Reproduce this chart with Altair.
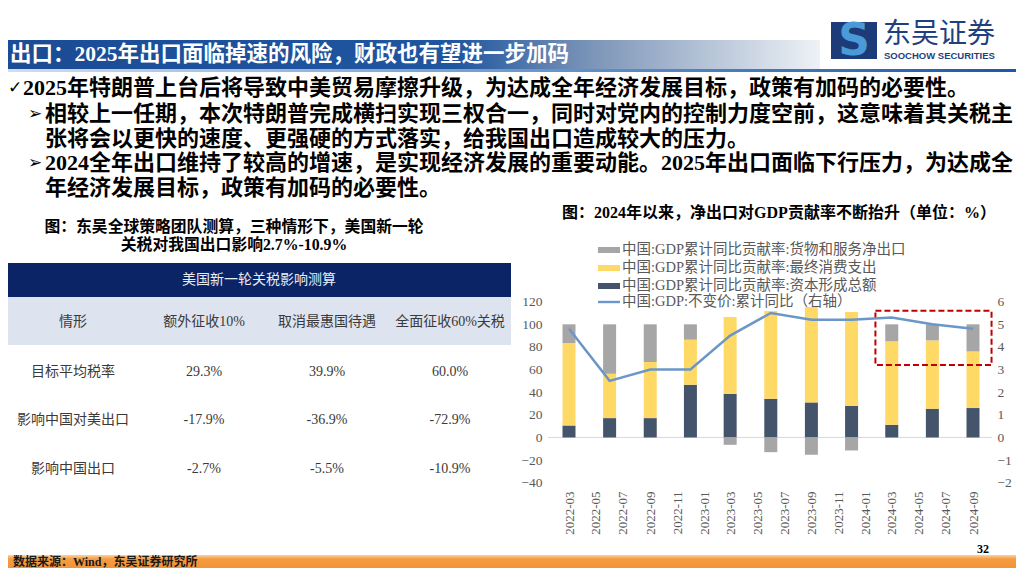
import altair as alt
import pandas as pd

# ---------------- data ----------------
quarter_dates = ["2022-03-01", "2022-06-01", "2022-09-01", "2022-12-01",
                 "2023-03-01", "2023-06-01", "2023-09-01", "2023-12-01",
                 "2024-03-01", "2024-06-01", "2024-09-01"]
capital_formation = [10.6, 17.1, 17.1, 46.6, 38.6, 34.2, 31.0, 28.0, 11.2, 25.4, 26.0]
final_consumption = [72.9, 39.2, 49.6, 39.8, 67.9, 77.6, 84.3, 83.0, 73.8, 60.4, 50.0]
net_exports = [16.5, 43.7, 33.3, 13.6, -6.5, -13.0, -15.3, -11.5, 15.0, 14.2, 24.0]
gdp_yoy = [4.8, 2.5, 3.0, 3.0, 4.5, 5.5, 5.2, 5.2, 5.3, 5.0, 4.8]

x_tick_labels = ["2022-03", "2022-05", "2022-07", "2022-09", "2022-11",
                 "2023-01", "2023-03", "2023-05", "2023-07", "2023-09", "2023-11",
                 "2024-01", "2024-03", "2024-05", "2024-07", "2024-09"]
left_ticks = [-40, -20, 0, 20, 40, 60, 80, 100, 120]
right_ticks = [-2, -1, 0, 1, 2, 3, 4, 5, 6]

series_names = ["中国:GDP累计同比贡献率:货物和服务净出口",
                "中国:GDP累计同比贡献率:最终消费支出",
                "中国:GDP累计同比贡献率:资本形成总额"]
line_name = "中国:GDP:不变价:累计同比（右轴）"
series_colors = ["#a6a6a6", "#ffd966", "#44546a"]
line_color = "#6a97c8"

highlight_dates = ["2024-01-24", "2024-10-13"]
highlight_values = [64, 112]

table_title = "美国新一轮关税影响测算"
table_header = ["情形", "额外征收10%", "取消最惠国待遇", "全面征收60%关税"]
table_row_names = ["目标平均税率", "影响中国对美出口", "影响中国出口"]
table_col_10pct = ["29.3%", "-17.9%", "-2.7%"]
table_col_mfn = ["39.9%", "-36.9%", "-5.5%"]
table_col_60pct = ["60.0%", "-72.9%", "-10.9%"]

slide_title = "出口：2025年出口面临掉速的风险，财政也有望进一步加码"
bullet_lines = [
    "2025年特朗普上台后将导致中美贸易摩擦升级，为达成全年经济发展目标，政策有加码的必要性。",
    "相较上一任期，本次特朗普完成横扫实现三权合一，同时对党内的控制力度空前，这意味着其关税主",
    "张将会以更快的速度、更强硬的方式落实，给我国出口造成较大的压力。",
    "2024全年出口维持了较高的增速，是实现经济发展的重要动能。2025年出口面临下行压力，为达成全",
    "年经济发展目标，政策有加码的必要性。",
]
table_caption = ["图：东吴全球策略团队测算，三种情形下，美国新一轮", "关税对我国出口影响2.7%-10.9%"]
chart_caption = "图：2024年以来，净出口对GDP贡献率不断抬升（单位：%）"
source_note = "数据来源：Wind，东吴证券研究所"
page_number = "32"

# ---------------- layout helpers ----------------
W, H = 1008, 560
OX, OY = 8, 8          # page margin: chart pixel = screen pixel - 8


def cx(v):
    return v - OX


def cy(v):
    return v - OY


SERIF = "Liberation Serif, Noto Sans CJK SC, sans-serif"
CJK = "Noto Sans CJK SC, Liberation Serif, sans-serif"


def text_layer(rows, font=SERIF, weight="normal", align="left", color="#000000", baseline="middle"):
    df = pd.DataFrame(rows, columns=["x", "y", "text", "size"])
    return alt.Chart(df).mark_text(font=font, fontWeight=weight, align=align,
                                   baseline=baseline, color=color).encode(
        x=alt.X("x:Q", scale=None, axis=None),
        y=alt.Y("y:Q", scale=None, axis=None),
        text=alt.Text("text:N"),
        size=alt.Size("size:Q", scale=None, legend=None),
    )


def rect_layer(x, x2, y, y2, fill, **kw):
    df = pd.DataFrame({"x": [x], "x2": [x2], "y": [y], "y2": [y2]})
    return alt.Chart(df).mark_rect(fill=fill, **kw).encode(
        x=alt.X("x:Q", scale=None, axis=None), x2="x2:Q",
        y=alt.Y("y:Q", scale=None, axis=None), y2="y2:Q",
    )


def grad(stops, horizontal=True):
    return alt.LinearGradient(
        gradient="linear",
        stops=[alt.GradientStop(offset=o, color=c) for o, c in stops],
        x1=0, x2=1 if horizontal else 0, y1=0, y2=0 if horizontal else 1,
    )


layers = []

# header band + thin rule
layers.append(rect_layer(0, cx(820), cy(40), cy(69),
                         grad([(0, "#1b4c96"), (0.55, "#1f56a0"), (0.72, "#7c95b8"), (1, "#eef2f6")])))
layers.append(rect_layer(0, W, cy(69), cy(72),
                         grad([(0, "#d2dded"), (0.6, "#5b8cc6"), (1, "#1c58a8")])))
# logo mark
layers.append(rect_layer(cx(831), cx(877), cy(22), cy(59), "#1d3b78"))
layers.append(text_layer([(cx(854), cy(42), "S", 44)], font="DejaVu Sans", weight="bold",
                         align="center", color="#4a9ad8"))
layers.append(text_layer([(cx(883), cy(35), "东吴证券", 28)], font=CJK, color="#1f3f7f"))
layers.append(text_layer([(cx(884), cy(56), "SOOCHOW SECURITIES", 9.5)],
                         font="Liberation Sans Narrow, Liberation Sans, sans-serif",
                         weight="bold", color="#1f3f7f"))
# slide title
layers.append(text_layer([(cx(10), cy(55), slide_title, 21.5)], weight="bold", color="#ffffff"))

# bullets
layers.append(text_layer([(0, cy(88), "✓", 17)], font="DejaVu Sans", weight="bold", color="#000000"))
layers.append(text_layer([(cx(28), cy(114), "➢", 17), (cx(28), cy(163), "➢", 17)],
                         font="DejaVu Sans", color="#000000"))
bullet_pos = [(cx(23), cy(88)), (cx(45), cy(114)), (cx(45), cy(139)), (cx(45), cy(163)), (cx(45), cy(188))]
layers.append(text_layer([(p[0], p[1], t, 22) for p, t in zip(bullet_pos, bullet_lines)],
                         weight="bold", color="#000000"))

# table caption
layers.append(text_layer([(cx(234), cy(227), table_caption[0], 15.8),
                          (cx(234), cy(245), table_caption[1], 15.8)],
                         weight="bold", align="center"))
# table
layers.append(rect_layer(cx(8), cx(511), cy(263), cy(297), "#0b2466"))
layers.append(rect_layer(cx(8), cx(511), cy(297), cy(345), "#dde3ef"))
layers.append(text_layer([(cx(259), cy(280), table_title, 14)], align="center", color="#e8ecf5"))
col_x = [cx(73), cx(204), cx(327), cx(450)]
row_y = [cy(372), cy(420), cy(469)]
cells = [(x, cy(322), t, 14) for x, t in zip(col_x, table_header)]
for i, y in enumerate(row_y):
    for x, t in zip(col_x, [table_row_names[i], table_col_10pct[i], table_col_mfn[i], table_col_60pct[i]]):
        cells.append((x, y, t, 14))
layers.append(text_layer(cells, align="center", color="#3a3a3a"))

# chart caption
layers.append(text_layer([(cx(779), cy(213), chart_caption, 16)], weight="bold", align="center"))

# legend
leg_y = [cy(250), cy(268), cy(286)]
for yy, col in zip(leg_y, series_colors):
    layers.append(rect_layer(cx(598), cx(620), yy - 3, yy + 3, col))
layers.append(rect_layer(cx(598), cx(620), cy(302) - 1.2, cy(302) + 1.2, line_color))
layers.append(text_layer([(cx(622), y, t, 14.5) for y, t in zip(leg_y + [cy(302)], series_names + [line_name])],
                         color="#595959"))

# ---------------- the chart itself (library scales / axes) ----------------
x_scale = alt.Scale(type="utc", nice=False,
                    domain=[alt.DateTime(year=2022, month=3, date=1, utc=True),
                            alt.DateTime(year=2024, month=9, date=1, utc=True)],
                    range=[cx(564), cx(978)])
y_range = [cy(482.7), cy(301.7)]
left_scale = alt.Scale(domain=[-40, 120], range=y_range, nice=False, zero=False)
right_scale = alt.Scale(domain=[-2, 6], range=y_range, nice=False, zero=False)
tick_dates = [alt.DateTime(year=int(s[:4]), month=int(s[5:]), date=1, utc=True) for s in x_tick_labels]

axis_style = dict(domain=False, ticks=False, tickSize=0, grid=False, labelFont="Liberation Serif",
                  labelColor="#595959", labelOverlap=False, labelFlush=False, title=None)
x_axis = alt.Axis(values=tick_dates, format="%Y-%m", labelAngle=-90, orient="bottom",
                  offset=cx(489) - H, labelFontSize=13, labelPadding=2, **axis_style)
left_axis = alt.Axis(values=left_ticks, orient="left", offset=-(cx(542) + 3),
                     labelFontSize=13.5, labelPadding=3, **axis_style)
right_axis = alt.Axis(values=right_ticks, orient="right", offset=(cx(997) - 3) - W,
                      labelFontSize=13.5, labelPadding=3, **axis_style)

n = len(quarter_dates)
bars_df = pd.DataFrame({
    "date": quarter_dates * 3,
    "series": [series_names[2]] * n + [series_names[1]] * n + [series_names[0]] * n,
    "value": capital_formation + final_consumption + net_exports,
    "order": [1] * n + [2] * n + [3] * n,
})
line_df = pd.DataFrame({"date": quarter_dates, "gdp": gdp_yoy})
box_df = pd.DataFrame({"date": [highlight_dates[0]], "date2": [highlight_dates[1]],
                       "value": [highlight_values[0]], "value2": [highlight_values[1]]})
zero_df = pd.DataFrame({"value": [0]})

zero_rule = alt.Chart(zero_df).mark_rule(color="#d9d9d9", strokeWidth=1).encode(
    y=alt.Y("value:Q", scale=left_scale, axis=left_axis, title=None),
    x=alt.value(cx(548)), x2=alt.value(cx(992)),
)

bars = alt.Chart(bars_df).mark_bar(size=13).encode(
    x=alt.X("date:T", scale=x_scale, axis=x_axis, title=None),
    y=alt.Y("value:Q", stack="zero", scale=left_scale, axis=left_axis, title=None),
    color=alt.Color("series:N", scale=alt.Scale(domain=series_names, range=series_colors), legend=None),
    order=alt.Order("order:Q"),
)

box = alt.Chart(box_df).mark_rect(fillOpacity=0, stroke="#c00000", strokeWidth=2,
                                  strokeDash=[6, 3]).encode(
    x=alt.X("date:T", scale=x_scale, axis=x_axis, title=None), x2="date2:T",
    y=alt.Y("value:Q", scale=left_scale, axis=left_axis, title=None), y2="value2:Q",
)

line = alt.Chart(line_df).mark_line(color=line_color, strokeWidth=2.5).encode(
    x=alt.X("date:T", scale=x_scale, axis=x_axis, title=None),
    y=alt.Y("gdp:Q", scale=right_scale, axis=right_axis, title=None),
)

chart_part = alt.layer(alt.layer(zero_rule, bars, box), line).resolve_scale(y="independent")
layers.append(chart_part)

# footer
layers.append(text_layer([(cx(983), cy(549), page_number, 12)], weight="bold", align="center"))
layers.append(rect_layer(0, W, cy(555), H, grad([(0, "#fbd3a6"), (0.3, "#f59c42"), (1, "#f39335")], horizontal=False)))
layers.append(text_layer([(cx(13), cy(561.5), source_note, 12)], weight="bold", color="#1a1a1a"))

chart = alt.layer(*layers).properties(
    width=W, height=H, padding=0, autosize=alt.AutoSizeParams(type="none"), background="#ffffff"
).configure_view(stroke=None)

chart.save("out.html", embed_options={"renderer": "svg", "actions": False})
